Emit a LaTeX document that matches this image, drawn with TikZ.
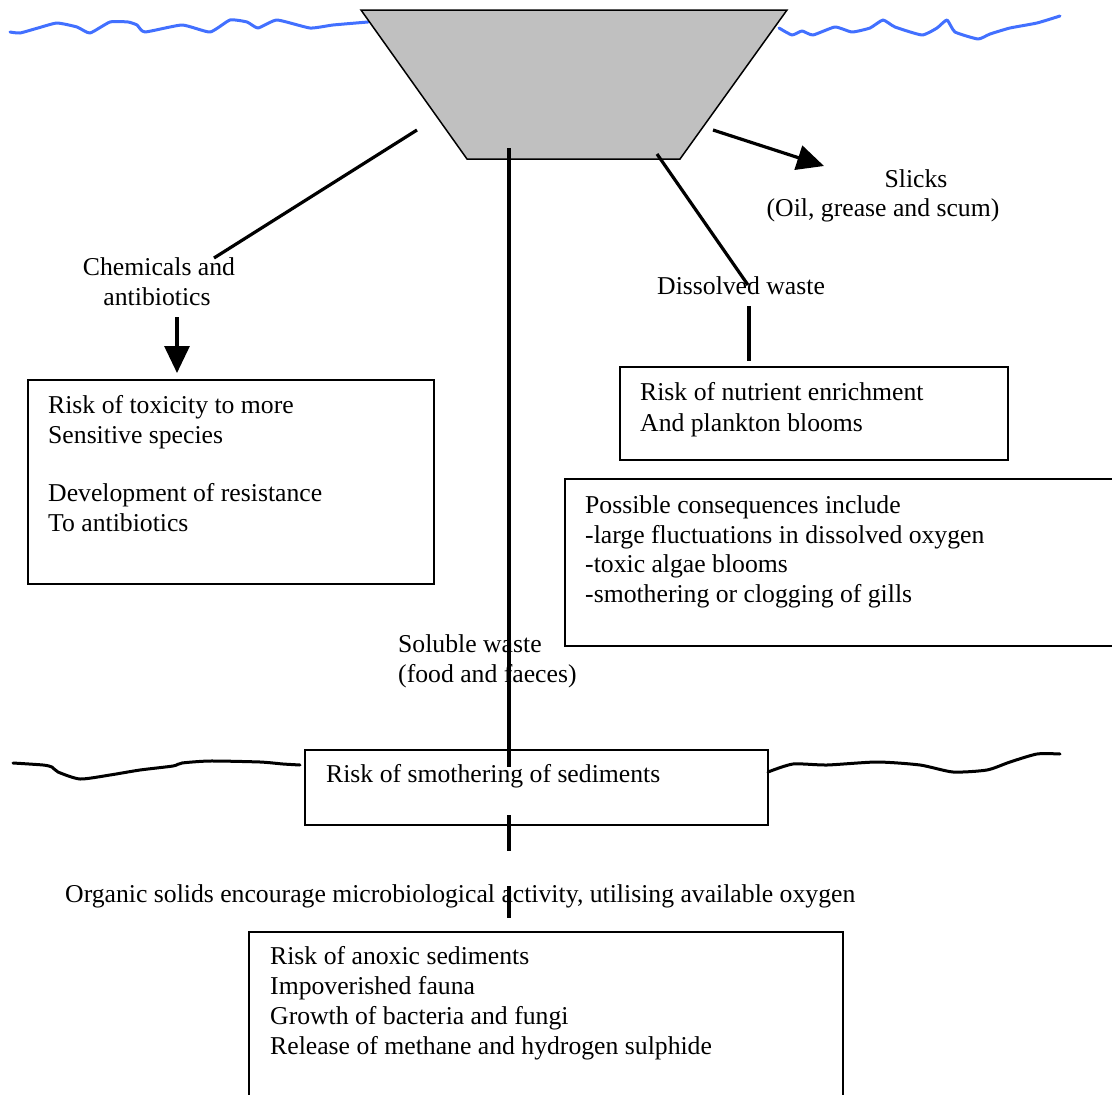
\documentclass[tikz,border=0pt]{standalone}
\usepackage{fontspec}
\setmainfont{Liberation Serif}
\usetikzlibrary{arrows.meta}
\definecolor{wave}{RGB}{66,112,255}
\definecolor{cage}{RGB}{192,192,192}
\tikzset{
  txt/.style={anchor=base west, inner sep=0pt, font=\fontsize{25.7}{29.7}\selectfont},
  ctxt/.style={anchor=base, inner sep=0pt, font=\fontsize{25.7}{29.7}\selectfont},
  boxline/.style={draw=black, line width=1.5pt},
  conn/.style={draw=black, line width=3.2pt},
  bigarrow/.style={draw=black, line width=3.2pt, -{Triangle[length=27pt,width=25pt]}},
  waterline/.style={draw=wave, line width=3pt, line join=round, line cap=round},
  seabed/.style={draw=black, line width=3pt, line join=round, line cap=round}
}
\begin{document}
\begin{tikzpicture}[x=1pt,y=-1pt]
\useasboundingbox (0,0) rectangle (1112,1095);
% water surface
\draw[waterline] plot[smooth, tension=0.3] coordinates {(10,32) (20,33) (38,28) (57,23) (77,27) (90,33) (110,22) (128,22) (137,25) (145,32) (182,25) (210,32) (230,20) (247,22) (258,28) (277,20) (310,28) (333,25) (368,22)};
\draw[waterline] plot[smooth, tension=0.3] coordinates {(779,28) (792,35) (802,31) (813,35) (835,27) (852,32) (870,28) (883,20) (895,27) (922,35) (937,28) (947,20) (955,32) (978,39) (990,34) (1010,28) (1037,23) (1060,16)};
% cage
\draw[fill=cage, draw=black, line width=1.5pt, line join=miter] (361,10) -- (787,10) -- (680,159) -- (467,159) -- cycle;
\node[inner sep=0pt] (cage) at (574,84) {};
% seabed
\draw[seabed] plot[smooth, tension=0.4] coordinates {(13,763) (43,765) (52,767) (58,772) (80,779) (110,775) (140,770) (173,766) (182,763) (210,761) (260,762) (283,764) (300,765)};
\draw[seabed] plot[smooth, tension=0.4] coordinates {(768,772) (793,764) (827,765) (877,762) (920,765) (953,772) (987,770) (1010,762) (1037,754) (1060,754)};
% boxes
\draw[boxline] (28,380) rectangle (434,584);
\draw[boxline] (620,367) rectangle (1008,460);
\draw[boxline] (565,479) rectangle (1125,646);
\draw[boxline] (305,750) rectangle (768,825);
\draw[boxline] (249,932) rectangle (843,1110);
% labels
\node[ctxt] (slicks) at (916,187) {Slicks};
\node[ctxt] (slicks2) at (883,216) {(Oil, grease and scum)};
\node[ctxt] (chem) at (159,275) {Chemicals and};
\node[ctxt] (chem2) at (157,305) {antibiotics};
\node[txt] (diss) at (657,294) {Dissolved waste};
\node[txt] (sol) at (398,652) {Soluble waste};
\node[txt] (sol2) at (398,682) {(food and faeces)};
\node[txt] (org) at (65,902) {Organic solids encourage microbiological activity, utilising available oxygen};
% box texts
\node[txt] (l1) at (48,413) {Risk of toxicity to more};
\node[txt] (l2) at (48,443) {Sensitive species};
\node[txt] (l3) at (48,501) {Development of resistance};
\node[txt] (l4) at (48,531) {To antibiotics};
\node[txt] (r1) at (640,400) {Risk of nutrient enrichment};
\node[txt] (r2) at (640,431) {And plankton blooms};
\node[txt] (p1) at (585,513) {Possible consequences include};
\node[txt] (p2) at (585,543) {-large fluctuations in dissolved oxygen};
\node[txt] (p3) at (585,572) {-toxic algae blooms};
\node[txt] (p4) at (585,602) {-smothering or clogging of gills};
\node[txt] (s1) at (326,782) {Risk of smothering of sediments};
\node[txt] (b1) at (270,964) {Risk of anoxic sediments};
\node[txt] (b2) at (270,994) {Impoverished fauna};
\node[txt] (b3) at (270,1024) {Growth of bacteria and fungi};
\node[txt] (b4) at (270,1054) {Release of methane and hydrogen sulphide};
% connector end points
\coordinate (chemA) at (417,130);
\coordinate (chemB) at (214,258);
\coordinate (downA) at (177,317);
\coordinate (downB) at (177,373);
\coordinate (slA) at (713,130);
\coordinate (slB) at (824,166);
\coordinate (dsA) at (657,154);
\coordinate (dsB) at (748,285);
\coordinate (dsC) at (749,306);
\coordinate (dsD) at (749,361);
\coordinate (cA) at (509,148);
\coordinate (cB) at (509,767);
\coordinate (cC) at (509,815);
\coordinate (cD) at (509,851);
\coordinate (cE) at (509,886);
\coordinate (cF) at (509,918);
% connectors
\draw[conn] (chemA) -- (chemB);
\draw[bigarrow] (downA) -- (downB);
\draw[bigarrow] (slA) -- (slB);
\draw[conn] (dsA) -- (dsB);
\draw[conn] (dsC) -- (dsD);
\draw[conn] (cA) -- (cB);
\draw[conn] (cC) -- (cD);
\draw[conn] (cE) -- (cF);
\end{tikzpicture}
\end{document}
